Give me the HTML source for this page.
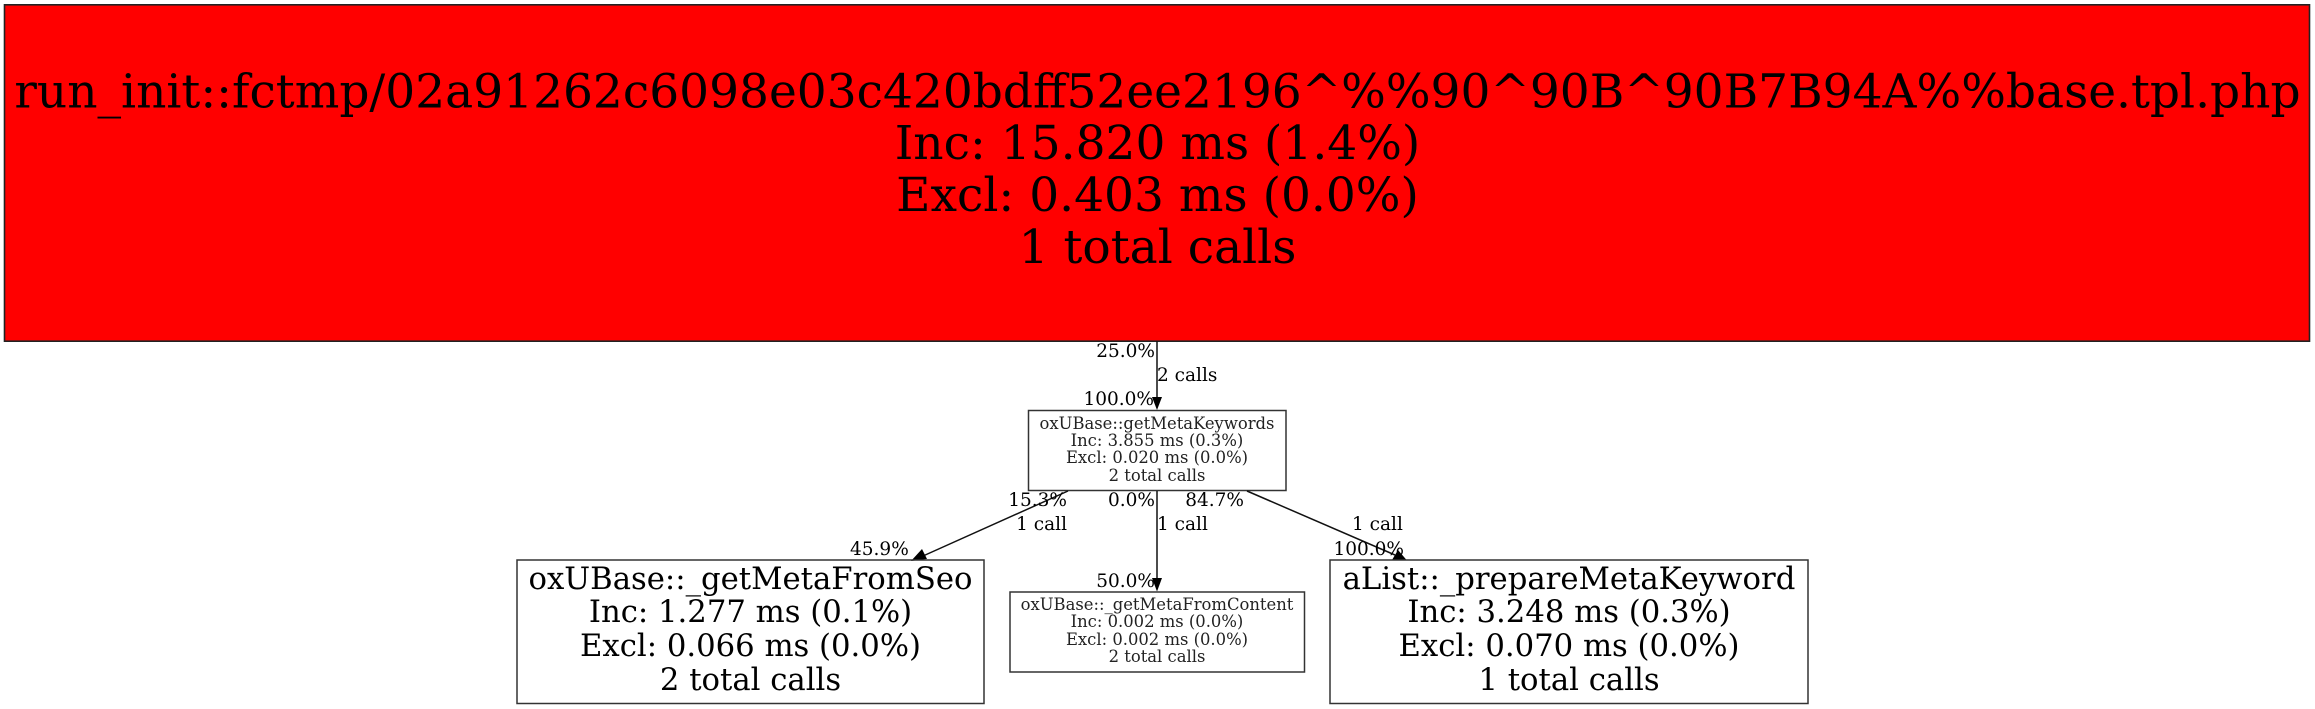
<!DOCTYPE html>
<html><head><meta charset="utf-8"><style>
html,body{margin:0;padding:0;background:#fff}
svg{display:block}
text{font-family:"DejaVu Serif",serif;fill:#000;text-anchor:middle}
.e{font-size:18.5px}
.s{font-size:16.4px;fill:#222}
.m{font-size:30.7px}
.b{font-size:47.05px}
.r{text-anchor:end}
.l{text-anchor:start}
rect{fill:none;stroke:#333;stroke-width:1.5}
line{stroke:#111;stroke-width:1.5}
polygon{fill:#000}
</style></head><body>
<svg width="2315" height="709" viewBox="0 0 2315 709" xmlns="http://www.w3.org/2000/svg">
<rect x="4.5" y="4.8" width="2305" height="336.4" style="fill:#f00;stroke:#222;stroke-width:1.6"/>
<text class="b" x="1157.5" y="107.5">run_init::fctmp/02a91262c6098e03c420bdff52ee2196^%%90^90B^90B7B94A%%base.tpl.php</text>
<text class="b" x="1157.5" y="159">Inc: 15.820 ms (1.4%)</text>
<text class="b" x="1157.5" y="211">Excl: 0.403 ms (0.0%)</text>
<text class="b" x="1157.5" y="263">1 total calls</text>

<line x1="1157" y1="341" x2="1157" y2="398"/>
<polygon points="1152,397 1162,397 1157,410"/>
<text class="e r" x="1155" y="357">25.0%</text>
<text class="e l" x="1157" y="381">2 calls</text>
<text class="e r" x="1154" y="405">100.0%</text>

<rect x="1028.5" y="410.5" width="257.5" height="80"/>
<text class="s" x="1157" y="429">oxUBase::getMetaKeywords</text>
<text class="s" x="1157" y="446">Inc: 3.855 ms (0.3%)</text>
<text class="s" x="1157" y="463">Excl: 0.020 ms (0.0%)</text>
<text class="s" x="1157" y="481">2 total calls</text>

<line x1="1068" y1="491" x2="923" y2="556"/>
<polygon points="922,549 927,559 911,561"/>
<text class="e r" x="1067" y="506">15.3%</text>
<text class="e r" x="1067" y="530">1 call</text>
<text class="e l" x="850" y="555">45.9%</text>

<line x1="1157" y1="491" x2="1157" y2="579"/>
<polygon points="1152,578 1162,578 1157,591.5"/>
<text class="e r" x="1155" y="506">0.0%</text>
<text class="e l" x="1157" y="530">1 call</text>
<text class="e r" x="1155" y="587">50.0%</text>

<line x1="1247" y1="491" x2="1395" y2="555"/>
<polygon points="1398,550 1392,560 1407,560.5"/>
<text class="e r" x="1244" y="506">84.7%</text>
<text class="e l" x="1352" y="530">1 call</text>
<text class="e r" x="1404" y="555">100.0%</text>

<rect x="517" y="560" width="467" height="143.5"/>
<text class="m" x="750.5" y="589">oxUBase::_getMetaFromSeo</text>
<text class="m" x="750.5" y="622">Inc: 1.277 ms (0.1%)</text>
<text class="m" x="750.5" y="656">Excl: 0.066 ms (0.0%)</text>
<text class="m" x="750.5" y="690">2 total calls</text>

<rect x="1010" y="592" width="294.5" height="80"/>
<text class="s" x="1157" y="610">oxUBase::_getMetaFromContent</text>
<text class="s" x="1157" y="627">Inc: 0.002 ms (0.0%)</text>
<text class="s" x="1157" y="645">Excl: 0.002 ms (0.0%)</text>
<text class="s" x="1157" y="662">2 total calls</text>

<rect x="1330" y="560" width="478" height="143.5"/>
<text class="m" x="1569" y="589">aList::_prepareMetaKeyword</text>
<text class="m" x="1569" y="622">Inc: 3.248 ms (0.3%)</text>
<text class="m" x="1569" y="656">Excl: 0.070 ms (0.0%)</text>
<text class="m" x="1569" y="690">1 total calls</text>
</svg>
</body></html>
